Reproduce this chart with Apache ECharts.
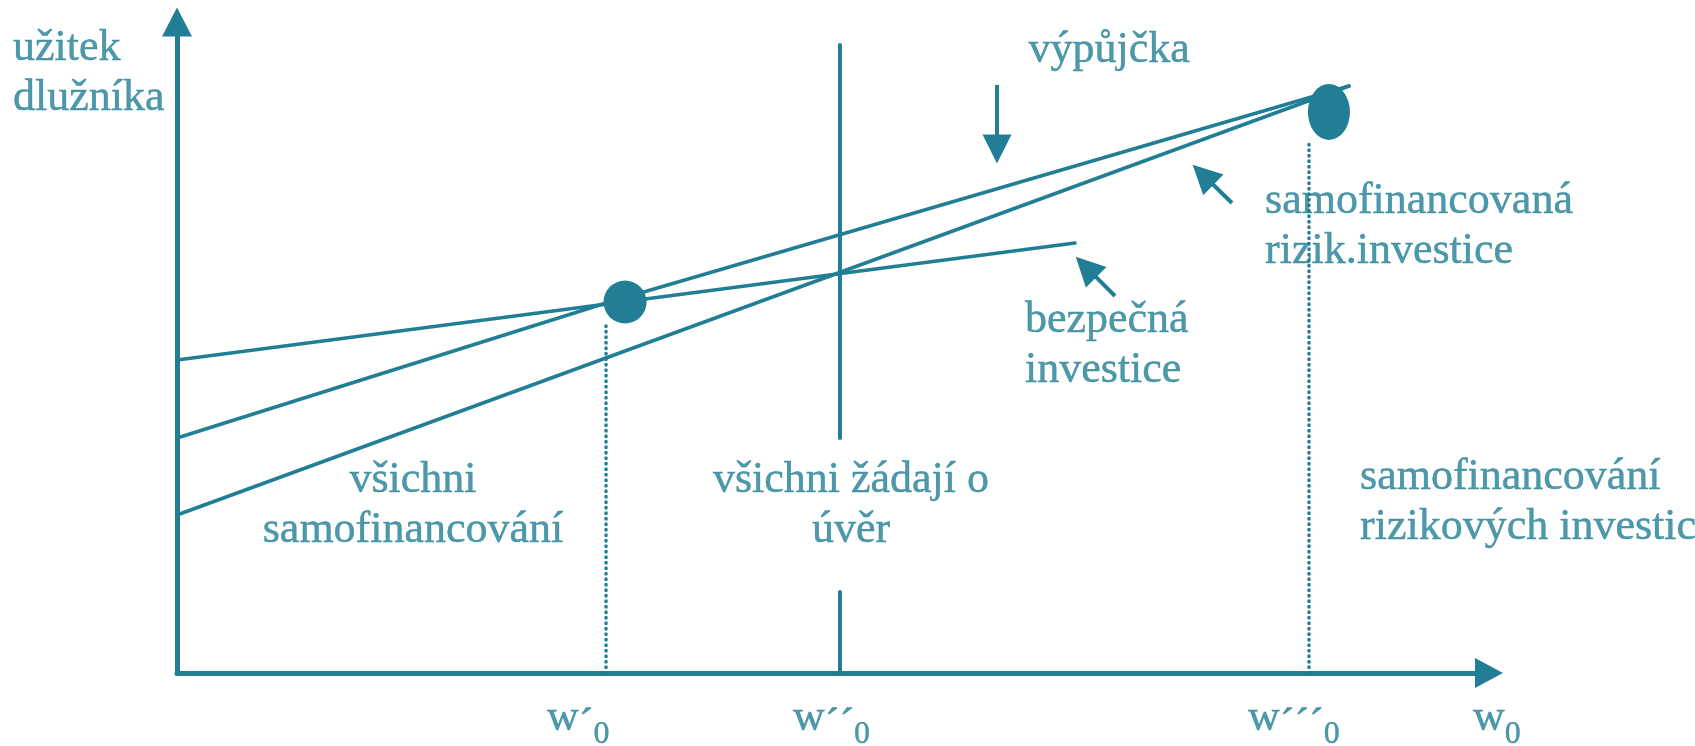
<!DOCTYPE html>
<html>
<head>
<meta charset="utf-8">
<script src="https://cdn.jsdelivr.net/npm/echarts@6/dist/echarts.min.js"></script>
<style>
  html, body { margin: 0; padding: 0; background: #fff; }
  #main { width: 1695px; height: 746px; }
</style>
</head>
<body>
<div id="main"></div>
<script>
// barva a písmo jako v předloze
var TEAL = '#217e94';
var FONT = 'Liberation Serif';

// přímky užitku (x = počáteční bohatství, y = užitek)
var safeLine = [[0, 48.08], [68.45, 66.05]];
var borrowLine = [[0, 36.10], [32.70, 56.84], [89.33, 90.17]];
var riskyLine = [[0, 24.27], [89.33, 90.17]];

// svislá dělicí čára u w''0 (přerušená textem)
var splitUpper = [[50.53, 96.47], [50.53, 36.1]];
var splitLower = [[50.53, 12.44], [50.53, 0]];

// tečkované vodítka k w'0 a w'''0
var guideA = [[32.70, 0], [32.70, 53.8]];
var guideB = [[86.28, 0], [86.28, 81.9]];

// body (kruh a elipsa)
var wealthDots = [[34.15, 56.99], [87.80, 86.18]];

// šipky [odkud, kam]
var arrows = [
    [[62.50, 90.32], [62.50, 80.49]],
    [[71.49, 57.91], [69.28, 62.38]],
    [[80.41, 72.20], [78.20, 76.53]]
];

// popisky osy x
var tickNames = ['w´0', 'w´´0', 'w´´´0', 'w0'];
var tickAt = [28.20, 46.95, 81.63, 98.78];
var tickY = -6.91;

// textové poznámky
var noteTexts = [
    'užitek\ndlužníka',
    'výpůjčka',
    'samofinancovaná\nrizik.investice',
    'bezpečná\ninvestice',
    'všichni\nsamofinancování',
    'všichni žádají o\núvěr',
    'samofinancování\nrizikových investic'
];
var noteAt = [[-12.5, 92.17], [71.04, 95.70], [82.93, 68.66], [64.63, 50.38], [17.99, 25.81], [51.37, 25.81], [90.17, 26.27]];
var noteAlign = ['left', 'center', 'left', 'left', 'center', 'center', 'left'];

var myChart = echarts.init(document.getElementById('main'));

function plainLine(name, data, width, type) {
    return {
        name: name,
        type: 'line',
        data: data,
        symbol: 'none',
        silent: true,
        lineStyle: { color: TEAL, width: width, type: type || 'solid', cap: 'round' },
        z: 2
    };
}

var txt = { color: TEAL, fontFamily: FONT, textBorderColor: TEAL, textBorderWidth: 0.45 };

var option = {
    animation: false,
    grid: { left: 177, right: 206, top: 22, bottom: 73, outerBoundsMode: 'none' },
    xAxis: {
        type: 'value', min: 0, max: 100,
        axisLine: { show: true, onZero: false, symbol: ['none', 'triangle'], symbolSize: [30, 28],
            lineStyle: { color: TEAL, width: 5 } },
        axisTick: { show: false }, axisLabel: { show: false }, splitLine: { show: false }
    },
    yAxis: {
        type: 'value', min: 0, max: 100,
        axisLine: { show: true, onZero: false, symbol: ['none', 'triangle'], symbolSize: [30, 29],
            lineStyle: { color: TEAL, width: 5 } },
        axisTick: { show: false }, axisLabel: { show: false }, splitLine: { show: false }
    },
    series: [
        plainLine('bezpečná', safeLine, 3.5),
        plainLine('výpůjčka', borrowLine, 3.5),
        plainLine('riziková', riskyLine, 3.5),
        plainLine('dělení1', splitUpper, 4),
        plainLine('dělení2', splitLower, 4),
        plainLine('w1', guideA, 3.5, [0.5, 5]),
        plainLine('w3', guideB, 3.5, [0.5, 5]),
        {
            type: 'scatter',
            silent: true,
            z: 4,
            data: [
                { value: wealthDots[0], symbolSize: 43 },
                { value: wealthDots[1], symbolSize: [42, 56] }
            ],
            itemStyle: { color: TEAL, opacity: 1 },
            markLine: {
                silent: true,
                symbol: ['none', 'triangle'],
                symbolSize: 29,
                label: { show: false },
                itemStyle: { color: TEAL },
                lineStyle: { color: TEAL, width: 4, type: 'solid', opacity: 1 },
                emphasis: { disabled: true },
                data: arrows.map(function (a) {
                    return [{ coord: a[0] }, { coord: a[1] }];
                })
            }
        },
        {
            type: 'scatter',
            silent: true,
            clip: false,
            symbolSize: 0,
            z: 5,
            data: noteTexts.map(function (t, i) {
                return {
                    value: noteAt[i],
                    label: Object.assign({
                        show: true,
                        position: [0, 0],
                        formatter: t,
                        align: noteAlign[i],
                        verticalAlign: 'middle',
                        fontSize: 44,
                        lineHeight: 50
                    }, txt)
                };
            }).concat(tickNames.map(function (t, i) {
                var primes = t.slice(1, t.length - 1);
                return {
                    value: [tickAt[i], tickY],
                    label: {
                        show: true,
                        position: [0, 0],
                        align: 'left',
                        verticalAlign: 'middle',
                        formatter: '{w|w}' + (primes ? '{p|' + primes + '}' : '') + '{s|0}',
                        rich: {
                            w: Object.assign({ fontSize: 44, lineHeight: 44 }, txt),
                            p: Object.assign({ fontSize: 44, lineHeight: 44, padding: [16, 0, 0, 0] }, txt),
                            s: Object.assign({ fontSize: 32, lineHeight: 44, padding: [34, 0, 0, 0] }, txt)
                        }
                    }
                };
            }))
        }
    ]
};

if (option && typeof option === 'object') {
    myChart.setOption(option, true);
}
</script>
</body>
</html>
